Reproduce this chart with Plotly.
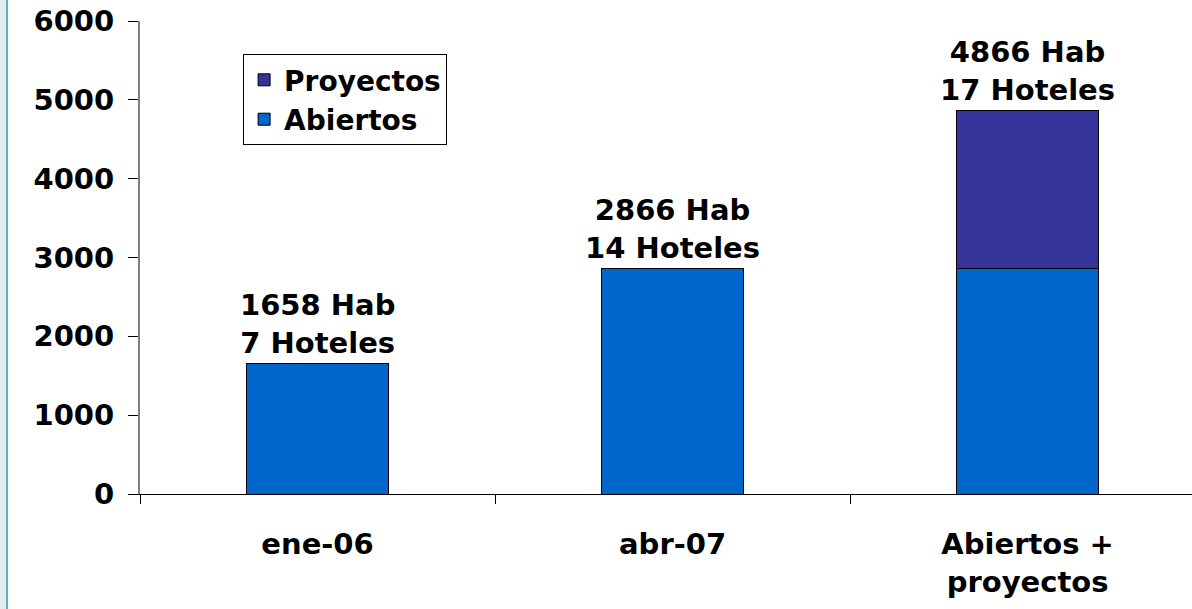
import plotly.graph_objects as go

# Hotel room capacity: open vs. projected
categories = ["ene-06", "abr-07", "Abiertos +<br>proyectos"]
abiertos = [1658, 2866, 2866]
proyectos = [0, 0, 2000]
habitaciones = [1658, 2866, 4866]
hoteles = [7, 14, 17]
y_ticks = [0, 1000, 2000, 3000, 4000, 5000, 6000]

FONT = "DejaVu Sans"
C_ABIERTOS = "#0066CC"
C_PROYECTOS = "#333399"

fig = go.Figure()
fig.add_trace(go.Bar(
    x=categories, y=abiertos, name="Abiertos",
    marker=dict(color=C_ABIERTOS, line=dict(color="#000000", width=1)),
    width=0.4,
))
fig.add_trace(go.Bar(
    x=categories, y=proyectos, name="Proyectos",
    marker=dict(color=C_PROYECTOS, line=dict(color="#000000", width=1)),
    width=0.4,
))

# Value labels above each stack
for cat, hab, hot in zip(categories, habitaciones, hoteles):
    fig.add_annotation(
        x=cat, y=hab, xref="x", yref="y",
        text=f"{hab} Hab<br>{hot} Hoteles",
        showarrow=False, yanchor="bottom", yshift=1,
        font=dict(family=FONT, size=29, color="#000000", weight="bold"),
    )

# Left-hand page strip
fig.add_shape(type="rect", xref="paper", yref="paper",
              x0=-141 / 1052, x1=-133 / 1052, y0=-116 / 473, y1=1 + 22 / 473,
              fillcolor="#E6EBEE", line=dict(width=0), layer="above")
fig.add_shape(type="line", xref="paper", yref="paper",
              x0=-133 / 1052, x1=-133 / 1052, y0=-116 / 473, y1=1 + 22 / 473,
              line=dict(color="#2E9AA8", width=1.5), layer="above")

fig.update_layout(
    width=1192, height=609,
    margin=dict(l=140, r=0, t=21, b=115),
    barmode="stack",
    bargap=0.6,
    plot_bgcolor="#FFFFFF", paper_bgcolor="#FFFFFF",
    font=dict(family=FONT, size=28, color="#000000", weight="bold"),
    showlegend=True,
    legend=dict(
        x=0.098, y=0.93, xanchor="left", yanchor="top",
        traceorder="reversed",
        bgcolor="#FFFFFF", bordercolor="#000000", borderwidth=1,
        font=dict(family=FONT, size=28, color="#000000", weight="bold"),
        itemwidth=30, tracegroupgap=0,
    ),
    xaxis=dict(
        type="category",
        range=[-0.5, 2.463],
        showline=True, linecolor="#000000", linewidth=1,
        ticks="outside", tickson="boundaries", ticklen=9,
        tickcolor="#000000", tickwidth=1,
        ticklabelstandoff=24,
        tickfont=dict(family=FONT, size=29, color="#000000", weight="bold"),
        showgrid=False, zeroline=False,
    ),
    yaxis=dict(
        range=[0, 6000],
        tickvals=y_ticks,
        showline=True, linecolor="#808080", linewidth=2,
        ticks="outside", ticklen=10, tickcolor="#000000", tickwidth=1,
        ticklabelstandoff=8,
        tickfont=dict(family=FONT, size=29, color="#000000", weight="bold"),
        showgrid=False, zeroline=False,
    ),
)

fig.write_html("out.html")
